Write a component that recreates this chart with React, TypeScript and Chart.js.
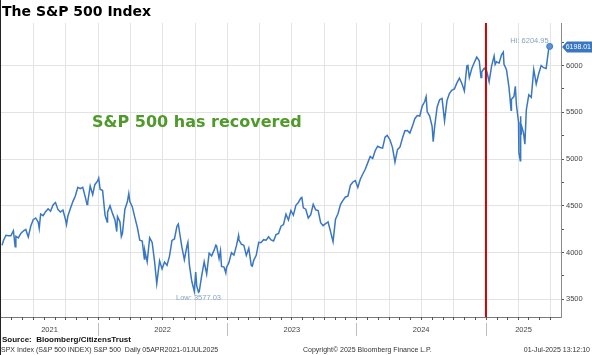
import React, { useEffect, useRef } from "react";
import { Chart, registerables } from "chart.js";

Chart.register(...registerables);

// ---- Data (S&P 500 closes) ----
const dates2021 = ["2021-04-05","2021-04-09","2021-04-16","2021-04-23","2021-04-30","2021-05-07","2021-05-12","2021-05-14","2021-05-21","2021-05-28","2021-06-04","2021-06-11","2021-06-18","2021-06-25","2021-07-02","2021-07-09","2021-07-16","2021-07-19","2021-07-23","2021-07-30","2021-08-06","2021-08-13","2021-08-20","2021-08-27","2021-09-03","2021-09-10","2021-09-17","2021-09-24","2021-10-01","2021-10-04","2021-10-08","2021-10-15","2021-10-22","2021-10-29","2021-11-05","2021-11-12","2021-11-19","2021-11-26","2021-12-01","2021-12-03","2021-12-10","2021-12-17","2021-12-23","2021-12-31"];
const spx2021 = [4078,4129,4185,4180,4181,4233,4063,4174,4156,4204,4230,4247,4166,4281,4352,4370,4327,4258,4412,4395,4437,4468,4442,4509,4535,4459,4433,4455,4357,4300,4391,4471,4545,4605,4697,4683,4698,4595,4513,4538,4712,4620,4726,4766];

const dates2022 = ["2022-01-03","2022-01-07","2022-01-14","2022-01-21","2022-01-27","2022-01-28","2022-02-04","2022-02-11","2022-02-18","2022-02-23","2022-02-25","2022-03-04","2022-03-08","2022-03-11","2022-03-18","2022-03-25","2022-03-29","2022-04-01","2022-04-08","2022-04-14","2022-04-22","2022-04-29","2022-05-06","2022-05-12","2022-05-13","2022-05-20","2022-05-27","2022-06-03","2022-06-10","2022-06-16","2022-06-24","2022-07-01","2022-07-08","2022-07-15","2022-07-22","2022-07-29","2022-08-05","2022-08-12","2022-08-16","2022-08-19","2022-08-26","2022-09-02","2022-09-09","2022-09-12","2022-09-16","2022-09-23","2022-09-30","2022-10-04","2022-10-07","2022-10-12","2022-10-14","2022-10-21","2022-10-28","2022-11-04","2022-11-11","2022-11-18","2022-11-25","2022-11-30","2022-12-02","2022-12-09","2022-12-13","2022-12-16","2022-12-23","2022-12-28","2022-12-30"];
const spx2022 = [4797,4677,4663,4398,4326,4432,4500,4419,4349,4225,4385,4329,4171,4204,4463,4543,4632,4546,4488,4393,4272,4132,4123,3930,4024,3901,4158,4109,3901,3667,3912,3825,3899,3863,3962,4130,4145,4280,4305,4228,4058,3924,4067,4110,3873,3693,3586,3791,3640,3577.03,3583,3753,3901,3771,3993,3965,4026,4080,4072,3934,4019,3852,3845,3783,3840];

const dates2023 = ["2023-01-06","2023-01-13","2023-01-20","2023-01-27","2023-02-02","2023-02-03","2023-02-10","2023-02-17","2023-02-24","2023-03-03","2023-03-10","2023-03-13","2023-03-17","2023-03-24","2023-03-31","2023-04-06","2023-04-14","2023-04-21","2023-04-28","2023-05-05","2023-05-12","2023-05-19","2023-05-26","2023-06-02","2023-06-09","2023-06-16","2023-06-23","2023-06-30","2023-07-07","2023-07-14","2023-07-21","2023-07-28","2023-07-31","2023-08-04","2023-08-11","2023-08-18","2023-08-25","2023-09-01","2023-09-08","2023-09-15","2023-09-22","2023-09-29","2023-10-06","2023-10-13","2023-10-20","2023-10-27","2023-11-03","2023-11-10","2023-11-17","2023-11-24","2023-12-01","2023-12-08","2023-12-15","2023-12-22","2023-12-29"];
const spx2023 = [3895,3999,3973,4071,4180,4136,4090,4079,3970,4046,3862,3856,3917,3971,4109,4105,4138,4133,4169,4136,4124,4192,4205,4282,4299,4410,4348,4450,4399,4505,4536,4582,4589,4478,4464,4370,4406,4516,4457,4450,4320,4288,4309,4327,4224,4117,4358,4415,4514,4559,4595,4604,4719,4755,4770];

const dates2024 = ["2024-01-05","2024-01-12","2024-01-19","2024-01-26","2024-02-02","2024-02-09","2024-02-16","2024-02-23","2024-03-01","2024-03-08","2024-03-15","2024-03-22","2024-03-28","2024-04-05","2024-04-12","2024-04-19","2024-04-26","2024-05-03","2024-05-10","2024-05-17","2024-05-24","2024-05-31","2024-06-07","2024-06-14","2024-06-21","2024-06-28","2024-07-05","2024-07-12","2024-07-16","2024-07-19","2024-07-26","2024-08-02","2024-08-05","2024-08-09","2024-08-16","2024-08-23","2024-08-30","2024-09-06","2024-09-13","2024-09-20","2024-09-27","2024-10-04","2024-10-11","2024-10-18","2024-10-25","2024-11-01","2024-11-08","2024-11-11","2024-11-15","2024-11-22","2024-11-29","2024-12-06","2024-12-13","2024-12-18","2024-12-20","2024-12-27"];
const spx2024 = [4697,4784,4840,4891,4959,5027,5006,5089,5137,5124,5117,5234,5254,5204,5123,4967,5100,5128,5223,5303,5305,5278,5347,5432,5465,5460,5567,5615,5667,5505,5459,5347,5186,5344,5554,5635,5648,5408,5626,5703,5738,5751,5815,5864,5808,5729,5996,6001,5871,5969,6032,6090,6051,5872,5931,5971];

const dates2025 = ["2025-01-03","2025-01-10","2025-01-17","2025-01-24","2025-01-27","2025-01-31","2025-02-07","2025-02-14","2025-02-19","2025-02-21","2025-02-28","2025-03-07","2025-03-13","2025-03-14","2025-03-21","2025-03-25","2025-03-28","2025-04-03","2025-04-04","2025-04-08","2025-04-09","2025-04-10","2025-04-11","2025-04-17","2025-04-21","2025-04-25","2025-05-02","2025-05-09","2025-05-16","2025-05-23","2025-05-30","2025-06-06","2025-06-13","2025-06-20","2025-06-27","2025-06-30","2025-07-01"];
const spx2025 = [5942,5827,5997,6101,6012,6041,6026,6115,6144,6013,5955,5770,5522,5639,5668,5777,5581,5397,5074,4982,5457,5268,5363,5283,5158,5525,5686,5660,5958,5803,5912,6000,5977,5968,6173,6204.95,6198.01];

const xStart = "2021-04-02";
const xEnd = "2025-08-01";
const markerDate = "2025-01-01";
const yMin = 3311;
const yMax = 6455;
const yearLabels = ["2021", "2022", "2023", "2024", "2025"];

// ---- helpers ----
const toDay = (s: string) =>
  Date.UTC(+s.slice(0, 4), +s.slice(5, 7) - 1, +s.slice(8, 10)) / 86400000;

const allDates = [...dates2021, ...dates2022, ...dates2023, ...dates2024, ...dates2025];
const allVals = [...spx2021, ...spx2022, ...spx2023, ...spx2024, ...spx2025];
const points = allDates.map((d, i) => ({ x: toDay(d), y: allVals[i] }));

const FONT_SMALL = "Liberation Sans, Arial, sans-serif";
const LINE_COLOR = "#3a77c2";

export default function App() {
  const ref = useRef<HTMLCanvasElement | null>(null);

  useEffect(() => {
    document.body.style.margin = "0";
    const canvas = ref.current;
    if (!canvas) return;

    const minX = toDay(xStart);
    const maxX = toDay(xEnd);
    let hiIdx = 0;
    let loIdx = 0;
    allVals.forEach((v, i) => {
      if (v > allVals[hiIdx]) hiIdx = i;
      if (v < allVals[loIdx]) loIdx = i;
    });

    const decor = {
      id: "decor",
      beforeDatasetsDraw(chart: any) {
        const { ctx, chartArea: a, scales } = chart;
        const xs = scales.x;
        ctx.save();
        ctx.strokeStyle = "#e3e3e3";
        ctx.lineWidth = 1;
        for (let y = 2021; y <= 2025; y++) {
          for (const m of [0, 3, 6, 9]) {
            const d = Date.UTC(y, m, 1) / 86400000;
            if (d <= minX || d >= maxX) continue;
            const px = Math.round(xs.getPixelForValue(d)) + 0.5;
            ctx.beginPath();
            ctx.moveTo(px, a.top);
            ctx.lineTo(px, a.bottom);
            ctx.stroke();
          }
        }
        ctx.restore();
      },
      afterDatasetsDraw(chart: any) {
        const { ctx, chartArea: a, scales } = chart;
        const xs = scales.x;
        const ys = scales.y;
        ctx.save();
        // red marker line
        const rx = xs.getPixelForValue(toDay(markerDate));
        ctx.strokeStyle = "#d40000";
        ctx.lineWidth = 2;
        ctx.beginPath();
        ctx.moveTo(rx, a.top);
        ctx.lineTo(rx, a.bottom);
        ctx.stroke();

        // monthly tick marks and year separators below x axis
        ctx.strokeStyle = "#555";
        ctx.lineWidth = 1;
        for (let y = 2021; y <= 2025; y++) {
          for (let m = 0; m < 12; m++) {
            const d = Date.UTC(y, m, 1) / 86400000;
            if (d <= minX || d >= maxX) continue;
            const px = Math.round(xs.getPixelForValue(d)) + 0.5;
            ctx.beginPath();
            ctx.moveTo(px, a.bottom);
            ctx.lineTo(px, a.bottom + 3);
            ctx.stroke();
          }
          const d0 = Date.UTC(y, 0, 1) / 86400000;
          if (d0 > minX && d0 < maxX) {
            const px = Math.round(xs.getPixelForValue(d0)) + 0.5;
            ctx.strokeStyle = "#bdbdbd";
            ctx.beginPath();
            ctx.moveTo(px, a.bottom + 6);
            ctx.lineTo(px, a.bottom + 19);
            ctx.stroke();
            ctx.strokeStyle = "#555";
          }
        }

        // Hi / Low labels
        const hx = xs.getPixelForValue(points[hiIdx].x);
        const hy = ys.getPixelForValue(points[hiIdx].y);
        const lx = xs.getPixelForValue(points[loIdx].x);
        const ly = ys.getPixelForValue(points[loIdx].y);
        ctx.font = `7.5px ${FONT_SMALL}`;
        ctx.fillStyle = "#86a3c6";
        ctx.textAlign = "right";
        ctx.textBaseline = "alphabetic";
        ctx.fillText(`Hi: ${allVals[hiIdx].toFixed(2)}`, hx - 1, hy - 3);
        ctx.textAlign = "center";
        ctx.textBaseline = "top";
        ctx.fillText(`Low: ${allVals[loIdx].toFixed(2)}`, lx, ly + 2);

        // last price tag
        const last = allVals[allVals.length - 1];
        const ty = ys.getPixelForValue(last);
        const tx = a.right + 1;
        ctx.fillStyle = LINE_COLOR;
        ctx.beginPath();
        ctx.moveTo(tx, ty);
        ctx.lineTo(tx + 5, ty - 5.5);
        ctx.lineTo(chart.width, ty - 5.5);
        ctx.lineTo(chart.width, ty + 5.5);
        ctx.lineTo(tx + 5, ty + 5.5);
        ctx.closePath();
        ctx.fill();
        ctx.fillStyle = "#ffffff";
        ctx.textAlign = "right";
        ctx.textBaseline = "middle";
        ctx.font = `7px ${FONT_SMALL}`;
        ctx.fillText(last.toFixed(2), chart.width - 1, ty + 0.5);
        ctx.restore();
      },
    };

    const chart = new Chart(canvas, {
      type: "line",
      data: {
        datasets: [
          {
            data: points,
            borderColor: LINE_COLOR,
            borderWidth: 1.5,
            pointRadius: (c: any) => (c.dataIndex === hiIdx ? 3 : 0),
            pointBackgroundColor: "#5b93d3",
            pointBorderColor: LINE_COLOR,
            pointBorderWidth: 1,
            tension: 0,
            fill: false,
          },
        ],
      },
      options: {
        animation: false,
        responsive: false,
        maintainAspectRatio: false,
        parsing: false as any,
        layout: { padding: { left: 1, top: 23, right: 0, bottom: 0 } },
        plugins: {
          legend: { display: false },
          title: { display: false },
          tooltip: { enabled: false },
        },
        scales: {
          x: {
            type: "linear",
            min: minX,
            max: maxX,
            grid: { display: false, drawTicks: false },
            border: { display: true, color: "#7a7a7a" },
            afterFit: (s: any) => {
              s.height = 38;
            },
            afterBuildTicks: (s: any) => {
              const t: any[] = [];
              yearLabels.forEach((lab) => {
                const y = +lab;
                const a = Math.max(Date.UTC(y, 0, 1) / 86400000, minX);
                const b = Math.min(Date.UTC(y + 1, 0, 1) / 86400000, maxX);
                t.push({ value: (a + b) / 2 });
              });
              s.ticks = t;
            },
            ticks: {
              autoSkip: false,
              maxRotation: 0,
              padding: 8,
              color: "#444",
              font: { size: 7.5, family: FONT_SMALL },
              callback: (_v: any, i: number) => yearLabels[i],
            },
          },
          y: {
            type: "linear",
            position: "right",
            min: yMin,
            max: yMax,
            afterFit: (s: any) => {
              s.width = 31;
            },
            border: { display: true, color: "#8a8a8a" },
            grid: {
              color: (c: any) =>
                c.tick && c.tick.value % 500 === 0 ? "#e3e3e3" : "rgba(0,0,0,0)",
              tickColor: "#555",
              tickLength: 3,
              drawOnChartArea: true,
            },
            ticks: {
              stepSize: 250,
              includeBounds: false,
              padding: 2,
              color: "#444",
              font: { size: 7.5, family: FONT_SMALL },
              callback: (v: any) => (v % 500 === 0 ? String(v) : ""),
            },
          },
        },
      } as any,
      plugins: [decor],
    });

    return () => chart.destroy();
  }, []);

  const small: React.CSSProperties = {
    position: "absolute",
    fontFamily: FONT_SMALL,
    fontSize: 7,
    lineHeight: "7px",
    color: "#333",
    whiteSpace: "nowrap",
  };

  return (
    <div
      style={{
        position: "relative",
        width: 592,
        height: 355,
        background: "#fff",
        overflow: "hidden",
      }}
    >
      <canvas
        ref={ref}
        width={592}
        height={355}
        style={{ position: "absolute", left: 0, top: 0, width: 592, height: 355 }}
      />
      <div
        style={{
          position: "absolute",
          left: 0,
          top: 0,
          bottom: 0,
          width: 1,
          background: "#222",
        }}
      />
      <div
        style={{
          position: "absolute",
          left: 2,
          top: 4,
          fontFamily: "DejaVu Sans, sans-serif",
          fontWeight: "bold",
          fontSize: 14,
          lineHeight: "14px",
          color: "#000",
          whiteSpace: "nowrap",
        }}
      >
        The S&amp;P 500 Index
      </div>
      <div
        style={{
          position: "absolute",
          left: 92,
          top: 114,
          fontFamily: "DejaVu Sans, sans-serif",
          fontWeight: "bold",
          fontSize: 16,
          lineHeight: "16px",
          color: "#4f9a2a",
          whiteSpace: "nowrap",
        }}
      >
        S&amp;P 500 has recovered
      </div>
      <div
        style={{
          ...small,
          left: 2,
          top: 336,
          fontSize: 8,
          lineHeight: "8px",
          fontWeight: "bold",
          color: "#111",
        }}
      >
        Source:&nbsp; Bloomberg/CitizensTrust
      </div>
      <div style={{ ...small, left: 1, top: 346 }}>
        SPX Index (S&amp;P 500 INDEX) S&amp;P 500&nbsp; Daily 05APR2021-01JUL2025
      </div>
      <div style={{ ...small, left: 303, top: 346 }}>
        Copyright© 2025 Bloomberg Finance L.P.
      </div>
      <div style={{ ...small, right: 2, top: 346 }}>01-Jul-2025 13:12:10</div>
    </div>
  );
}
